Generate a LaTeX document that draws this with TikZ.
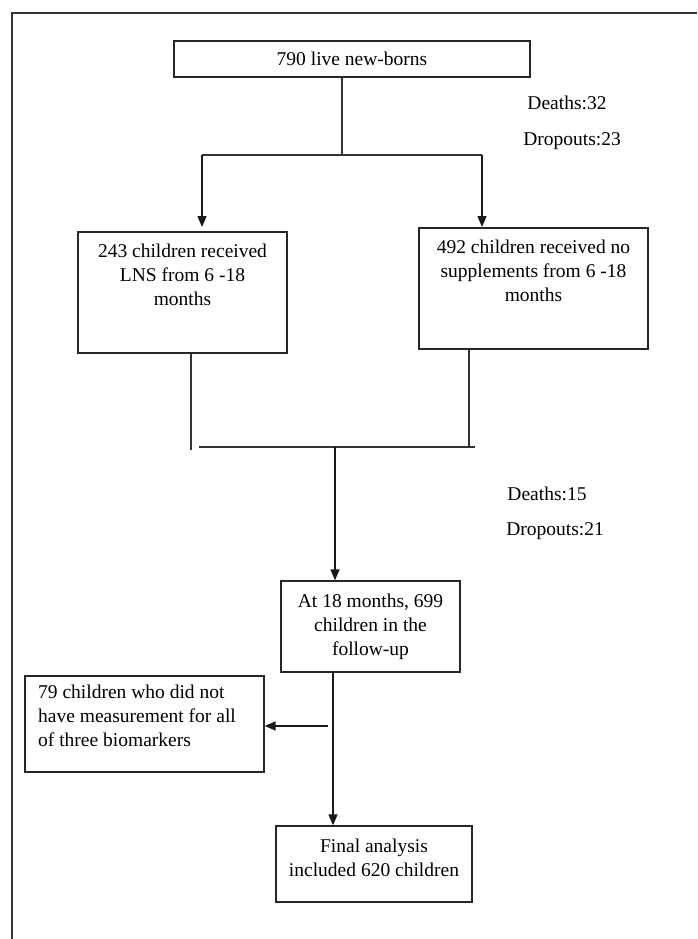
\documentclass[tikz,border=0pt]{standalone}
\usepackage{fontspec}
\setmainfont{Liberation Serif}
\usetikzlibrary{arrows.meta}
\begin{document}
\begin{tikzpicture}[x=1pt,y=-1pt,
  box/.style={draw=black!85,line width=1.3pt,inner sep=0pt},
  txt/.style={inner sep=0pt,align=center,text=black,font=\fontsize{19.5}{24}\selectfont},
  ltxt/.style={inner sep=0pt,align=left,text=black,font=\fontsize{19.5}{24}\selectfont},
  ln/.style={draw=black!80,line width=1.1pt},
  arr/.style={draw=black!90,line width=1.4pt,-{Triangle[length=11pt,width=9pt]}}]
\useasboundingbox (0,0) rectangle (697,939);
\draw[ln] (12,939) -- (12,13) -- (697,13);
% boxes
\node[box,minimum width=356pt,minimum height=36pt] (top) at (352,59) {};
\node[txt] (toptxt) at (352,59) {790 live new-borns};
\node[box,minimum width=209pt,minimum height=121pt] (lns) at (182.5,292.5) {};
\node[txt] (lnstxt) at (182.5,275) {243 children received\\LNS from 6 -18\\months};
\node[box,minimum width=229pt,minimum height=121pt] (nos) at (533.5,288.5) {};
\node[txt] (nostxt) at (533.5,271) {492 children received no\\supplements from 6 -18\\months};
\node[box,minimum width=179pt,minimum height=91pt] (m18) at (370.5,626.5) {};
\node[txt] (m18txt) at (370.5,627) {At 18 months, 699\\children in the\\follow-up};
\node[box,minimum width=239pt,minimum height=96pt] (miss) at (144.5,724) {};
\node[ltxt,anchor=west] (misstxt) at (38,716) {79 children who did not\\have measurement for all\\of three biomarkers};
\node[box,minimum width=196pt,minimum height=76pt] (fin) at (374,864) {};
\node[txt] (fintxt) at (374,857.5) {Final analysis\\included 620 children};
% labels
\node[txt] (d1) at (567,103) {Deaths:32};
\node[txt] (o1) at (572,141) {Dropouts:23};
\node[txt] (d2) at (547,494) {Deaths:15};
\node[txt] (o2) at (555,531) {Dropouts:21};
% connectors
\coordinate (j1) at (342,155);
\coordinate (jl) at (202,155);
\coordinate (jr) at (482,155);
\draw[ln] (top.south -| j1) -- (j1);
\draw[ln] (jl) -- (jr);
\draw[arr] (jl) -- (202,227);
\draw[arr] (jr) -- (482,227);
\coordinate (bl) at (191,450);
\coordinate (br) at (469,446);
\coordinate (hl) at (199,447);
\coordinate (hr) at (475,447);
\coordinate (j2) at (335,447);
\draw[ln] (lns.south -| bl) -- (bl);
\draw[ln] (nos.south -| br) -- (br);
\draw[ln] (hl) -- (hr);
\draw[arr] (j2) -- (m18.north -| j2);
\coordinate (j3) at (333,726);
\draw[arr] (m18.south -| j3) -- (fin.north -| j3);
\draw[arr] (328,726) -- (miss.east |- j3);
\end{tikzpicture}
\end{document}
